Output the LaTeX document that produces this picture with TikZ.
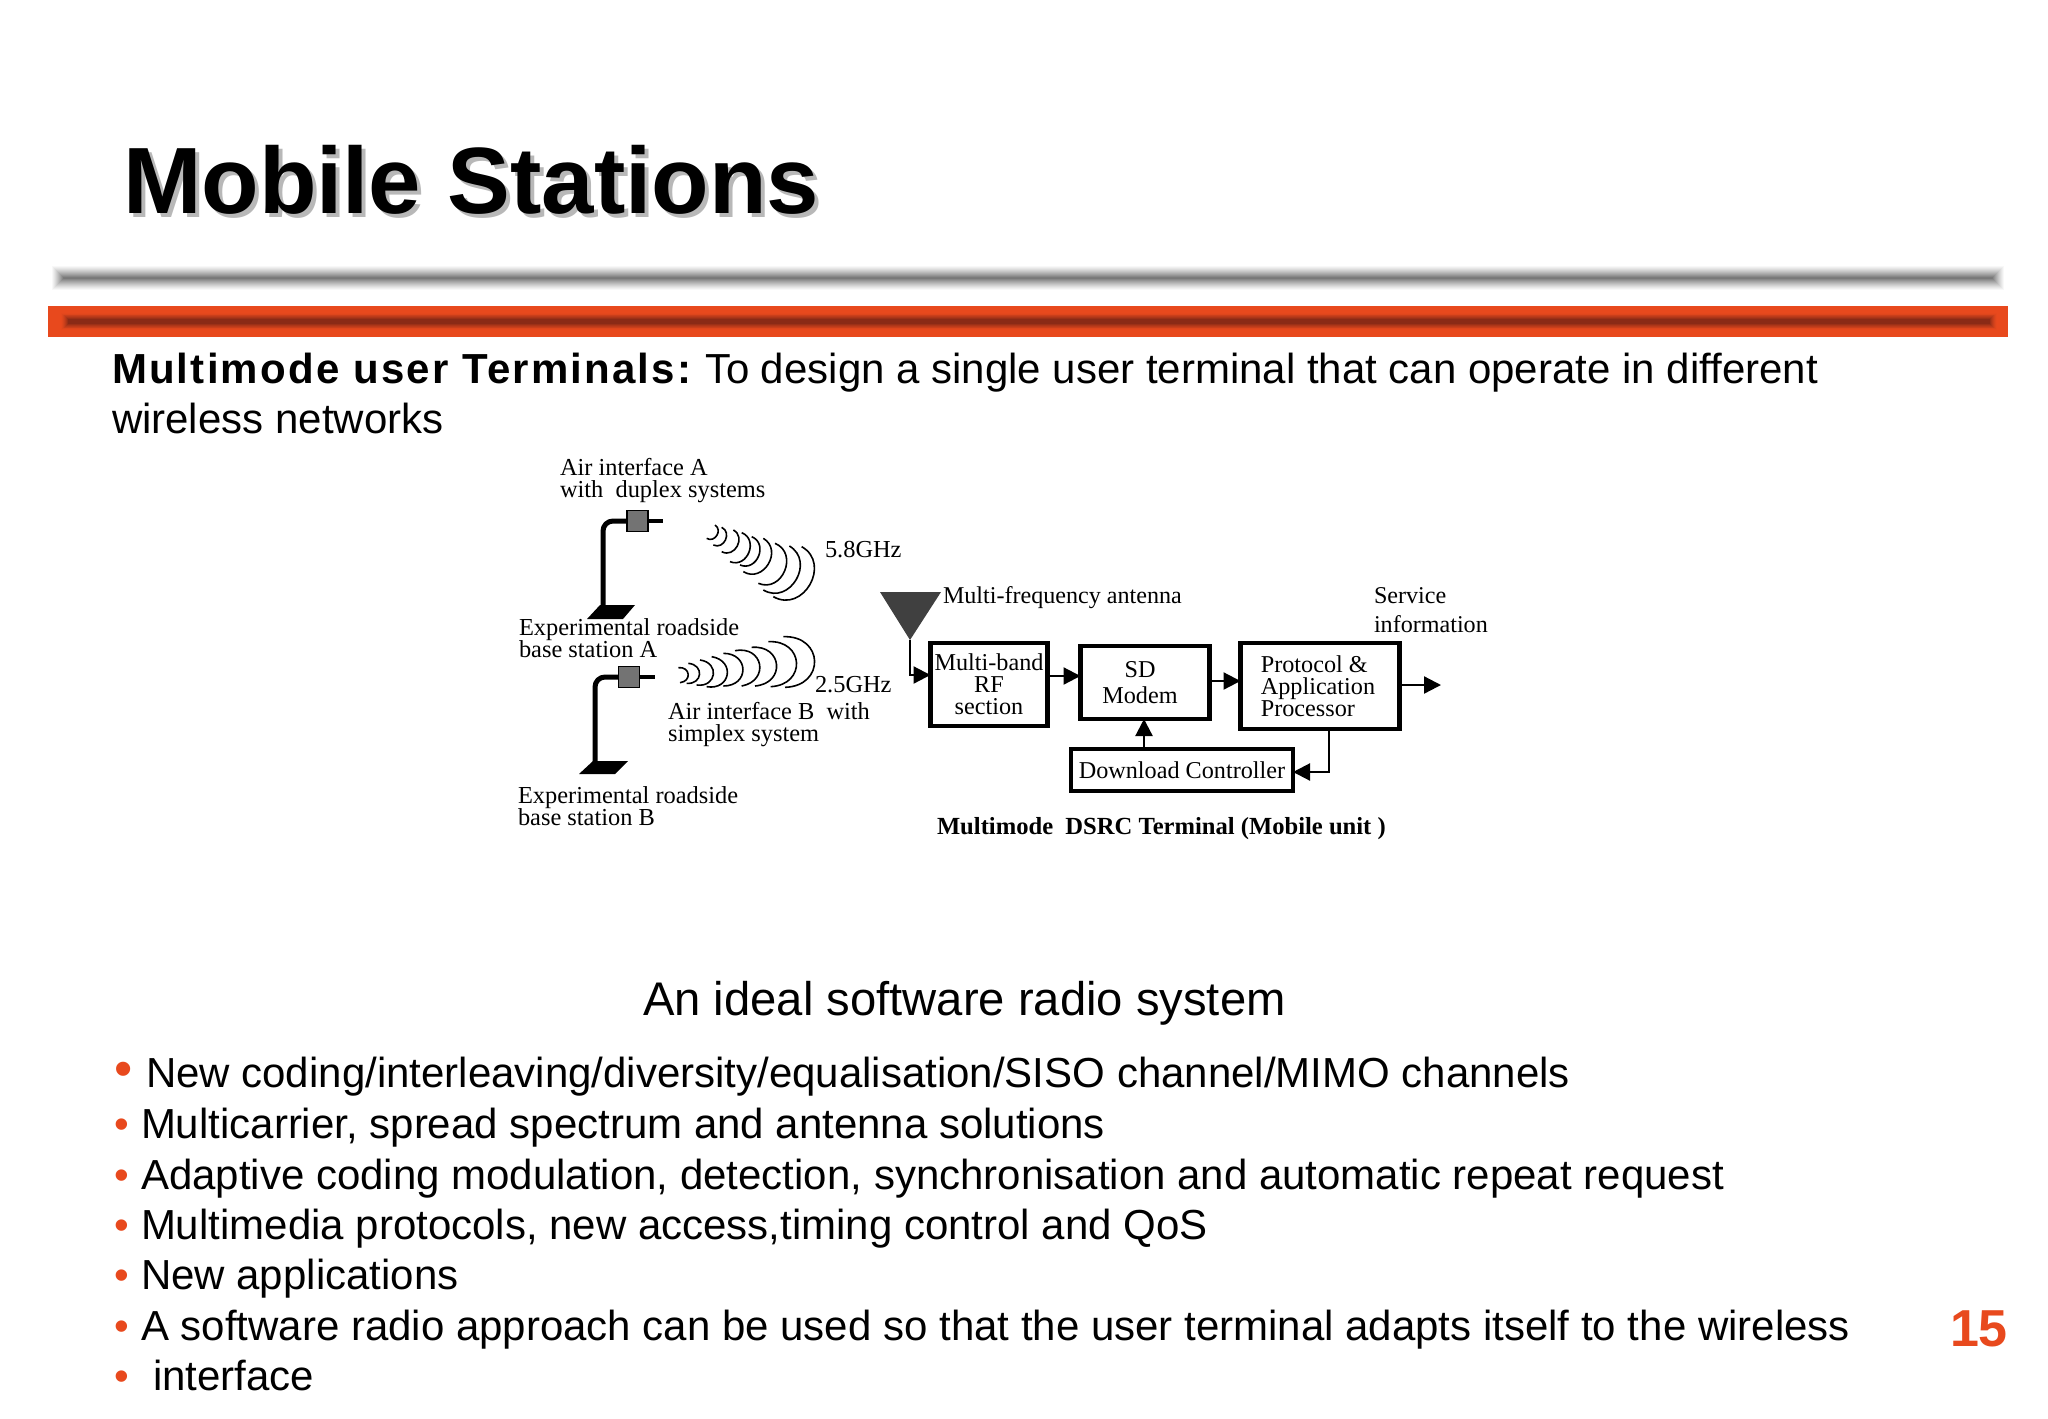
\documentclass[tikz,border=0pt]{standalone}
\usepackage{fontspec}
\setmainfont{Liberation Sans}
\newfontfamily\serifdgm{Liberation Serif}
\newfontfamily\spacedbold[LetterSpace=5.2]{Liberation Sans Bold}
\usetikzlibrary{arrows.meta}
\definecolor{slidered}{HTML}{E8491D}
\definecolor{barred}{HTML}{8A2A16}
\definecolor{bargray}{HTML}{6E6E6E}
\tikzset{
  x=0.5pt,y=-0.5pt,
  txt/.style={anchor=base west,inner sep=0pt,outer sep=0pt},
  body/.style={txt,font=\fontsize{21}{24}\selectfont,text=black},
  bul/.style={txt,font=\fontsize{21}{24}\selectfont,text=slidered},
  dgl/.style={txt,font=\serifdgm\fontsize{12.2}{12}\selectfont},
  dgr/.style={txt,font=\serifdgm\fontsize{12.05}{12}\selectfont},
  tbox/.style={draw=black,line width=2.3pt,fill=white,inner sep=0pt,outer sep=0pt,align=center,
    font=\serifdgm\fontsize{12.1}{11}\selectfont},
  conn/.style={draw=black,line width=1.1pt,-{Triangle[length=8.5pt,width=8.5pt]}},
  pole/.style={draw=black,line width=2.5pt,rounded corners=5pt},
  wave/.style={draw=black,line width=0.8pt},
  mbox/.style={draw=black,line width=0.8pt,fill=black!55},
  pad/.style={fill=black},
}
\begin{document}
\begin{tikzpicture}
\useasboundingbox (0,0) rectangle (2048,1418);
\fill[white] (0,0) rectangle (2048,1418);

% title with its shadow
\node[txt,font=\bfseries\fontsize{47.1}{50}\selectfont,text=black!28] at (127,217) {Mobile Stations};
\node[txt,font=\bfseries\fontsize{47.1}{50}\selectfont,text=black] (title) at (123,213) {Mobile Stations};

% grey bar
\foreach \i in {0,...,13}{
  \pgfmathsetmacro{\mixv}{100*(\i/13)^1.2}
  \fill[bargray!\mixv!white] (51+\i,265+\i) rectangle (2005-\i,291-\i);
}
% red bar
\fill[slidered] (48,306) rectangle (2008,337);
\foreach \i in {0,...,8}{
  \pgfmathsetmacro{\mixv}{100*(\i/8)^1.6}
  \fill[barred!\mixv!slidered] (60+\i,312+\i*0.85) rectangle (1998-\i,331-\i*0.85);
}

% heading text
\node[txt,font=\spacedbold\fontsize{21}{24}\selectfont] (h1) at (112,383) {Multimode user Terminals:};
\node[body] (h2) at (705,383) {To design a single user terminal that can operate in different};
\node[body] (h3) at (112,433) {wireless networks};

% base station A
\fill[pad] (600,605) -- (635,605) -- (623,619) -- (587,619) -- cycle;
\draw[pole] (603,607) -- (603,521) -- (628,521);
\draw[draw=black,line width=2pt] (648,521) -- (663,521);
\node[mbox,minimum width=10.5pt,minimum height=10.5pt,inner sep=0pt] (boxa) at (637.5,521) {};
% base station B
\fill[pad] (593,761) -- (628,761) -- (615,774) -- (579,774) -- cycle;
\draw[pole] (595,763) -- (595,677) -- (619,677);
\draw[draw=black,line width=2pt] (640,677) -- (655,677);
\node[mbox,minimum width=10.5pt,minimum height=10.5pt,inner sep=0pt] (boxb) at (629,677) {};

% wave fronts A (5.8 GHz)
\foreach \a/\b/\c/\d in {645/255/620/295,665/262/640/315,700/270/665/335,725/278/690/365,755/290/720/375,790/295/730/395,825/310/775/430,868/318/790/450,905/320/820/470}{
  \pgfmathsetmacro{\sx}{500+\a/3}
  \pgfmathsetmacro{\sy}{440+\b/3}
  \pgfmathsetmacro{\ex}{500+\c/3}
  \pgfmathsetmacro{\ey}{440+\d/3}
  \pgfmathsetmacro{\kx}{0.6*(\d-\b)/3}
  \pgfmathsetmacro{\ky}{-0.6*(\c-\a)/3}
  \draw[wave] (\sx,\sy) .. controls (\sx+\kx,\sy+\ky) and (\ex+\kx,\ey+\ky) .. (\ex,\ey);
}
% wave fronts B (2.5 GHz)
\foreach \a/\b/\c/\d in {535/683/540/728,565/670/560/730,600/660/590/735,635/650/620/740,670/640/670/738,705/632/725/738,755/622/765/738,805/605/812/740,850/590/855/742}{
  \pgfmathsetmacro{\sx}{500+\a/3}
  \pgfmathsetmacro{\sy}{440+\b/3}
  \pgfmathsetmacro{\ex}{500+\c/3}
  \pgfmathsetmacro{\ey}{440+\d/3}
  \pgfmathsetmacro{\kx}{0.8*(\d-\b)/3}
  \pgfmathsetmacro{\ky}{-0.8*(\c-\a)/3}
  \draw[wave] (\sx,\sy) .. controls (\sx+\kx,\sy+\ky) and (\ex+\kx,\ey+\ky) .. (\ex,\ey);
}

% left diagram labels
\node[dgl] (la1) at (560,475) {Air interface A};
\node[dgl] (la2) at (560,497) {with\ \ duplex systems};
\node[dgl] (f58) at (825,557) {5.8GHz};
\node[dgl] (ea1) at (519,635) {Experimental roadside};
\node[dgl] (ea2) at (519,657) {base station A};
\node[dgl] (f25) at (815,692) {2.5GHz};
\node[dgl] (lb1) at (668,719) {Air interface B\ \ with};
\node[dgl] (lb2) at (668,741) {simplex system};
\node[dgl] (eb1) at (518,803) {Experimental roadside};
\node[dgl] (eb2) at (518,825) {base station B};

% antenna
\fill[black!75] (880,592) -- (941,592) -- (910,640) -- cycle;
\coordinate (ant) at (910,640);
\node[dgr] (anttxt) at (943,603) {Multi-frequency antenna};

% blocks
\node[tbox,minimum width=58.5pt,minimum height=41.5pt] (rf) at (989,684.5) {Multi-band\\RF\\section};
\node[tbox,minimum width=64.5pt,minimum height=36.5pt] (sd) at (1145,682.5) {SD\hspace{5pt}\mbox{}\\[2pt]Modem\hspace{5pt}\mbox{}};
\node[tbox,minimum width=79.5pt,minimum height=43pt,align=left] (proto) at (1320,686) {Protocol \&\\Application\\Processor\phantom{xx}};
\node[tbox,minimum width=111pt,minimum height=21pt] (dl) at (1182,770) {\raisebox{-0.5pt}{Download Controller}};

% connectors
\coordinate (ya) at (0,675);
\coordinate (yb) at (0,676);
\coordinate (yc) at (0,681);
\coordinate (yd) at (0,685);
\coordinate (ye) at (0,772);
\coordinate (xd) at (1144,0);
\coordinate (xe) at (1329,0);
\coordinate (out) at (1441,685);
\draw[conn] (ant) |- (rf.west |- ya);
\draw[conn] (rf.east |- yb) -- (sd.west |- yb);
\draw[conn] (sd.east |- yc) -- (proto.west |- yc);
\draw[conn] (proto.east |- yd) -- (out);
\draw[conn] (dl.north -| xd) -- (sd.south -| xd);
\draw[conn] (proto.south -| xe) |- (dl.east |- ye);

\node[dgr] (si1) at (1374,603) {Service};
\node[dgr] (si2) at (1374,632) {information};
\node[txt,font=\serifdgm\bfseries\fontsize{12.3}{13}\selectfont] (cap) at (937,834) {Multimode\ \ DSRC Terminal (Mobile unit )};

% caption and bullets
\node[txt,font=\fontsize{23.6}{26}\selectfont] (ideal) at (643,1015) {An ideal software radio system};

\node[bul,font=\fontsize{26}{26}\selectfont] (b1) at (114,1086) {•};
\node[body] (t1) at (146,1087) {New coding/interleaving/diversity/equalisation/SISO channel/MIMO channels};
\node[bul] (b2) at (114,1138) {•};
\node[body] (t2) at (141,1138) {Multicarrier, spread spectrum and antenna solutions};
\node[bul] (b3) at (114,1189) {•};
\node[body] (t3) at (141,1189) {Adaptive coding modulation, detection, synchronisation and automatic repeat request};
\node[bul] (b4) at (114,1239) {•};
\node[body] (t4) at (141,1239) {Multimedia protocols, new access,timing control and QoS};
\node[bul] (b5) at (114,1289) {•};
\node[body] (t5) at (141,1289) {New applications};
\node[bul] (b6) at (114,1340) {•};
\node[body] (t6) at (141,1340) {A software radio approach can be used so that the user terminal adapts itself to the wireless};
\node[bul] (b7) at (114,1390) {•};
\node[body] (t7) at (153,1390) {interface};

\node[txt,font=\bfseries\fontsize{26}{28}\selectfont,text=slidered] (pg) at (1950,1346) {15};
\end{tikzpicture}
\end{document}
